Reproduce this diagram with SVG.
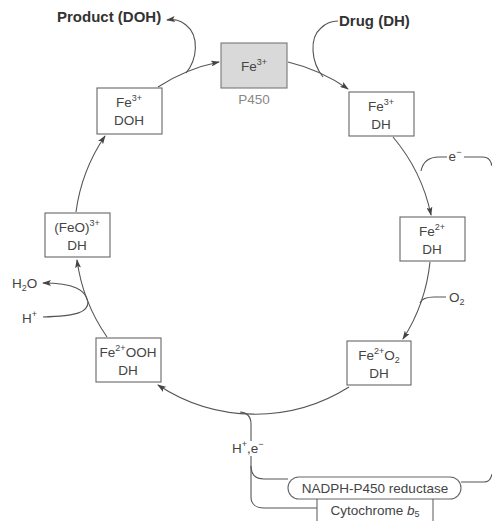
<svg xmlns="http://www.w3.org/2000/svg" width="492" height="521" viewBox="0 0 492 521">
<defs>
<marker id="ah" markerWidth="9" markerHeight="6" refX="8" refY="3" orient="auto" markerUnits="userSpaceOnUse">
<path d="M0,0 L9,3 L0,6 L2,3 Z" fill="#444"/>
</marker>
<style>
.box{fill:#fff;stroke:#666;stroke-width:1.1}
.p450{fill:#d9d9d9;stroke:#777;stroke-width:1.1}
.t{font-family:"Liberation Sans",Arial,sans-serif;font-size:13.5px;fill:#444;text-anchor:middle}
.tl{font-family:"Liberation Sans",Arial,sans-serif;font-size:13.5px;fill:#444}
.b{font-family:"Liberation Sans",Arial,sans-serif;font-size:15px;font-weight:bold;fill:#333}
.sup{font-size:9px}
.c{fill:none;stroke:#555;stroke-width:1.1}
.ca{fill:none;stroke:#555;stroke-width:1.1;marker-end:url(#ah)}
</style>
</defs>
<rect width="492" height="521" fill="#fff"/>

<g id="connectors">
<path class="ca" d="M158,87 A176,176 0 0 1 219,62"/>
<path class="ca" d="M288,62 A176,176 0 0 1 348,89"/>
<path class="ca" d="M393,137 A176,176 0 0 1 431,215"/>
<path class="ca" d="M430,262 A176,176 0 0 1 403,339"/>
<path class="ca" d="M349,387 A176,176 0 0 1 158,385"/>
<path class="ca" d="M107,337 A176,176 0 0 1 77,260"/>
<path class="ca" d="M76,212 A176,176 0 0 1 105,136"/>
<path class="ca" d="M186,73 C197,60 200,36 186,25 C180,20 175,19 167,20"/>
<path class="c" d="M323,77 C311,62 309,38 321,28 C326,23 331,21 338,21"/>
<path class="c" d="M421,171 C423,161 429,157 439,157 L447,157"/>
<path class="c" d="M464,157 L483,157 C488,157 491,160 492,166"/>
<path class="c" d="M420,303 C422,298 427,297 434,297 L446,297"/>
<path class="ca" d="M88,302 C86,290 74,283 43,283"/>
<path class="c" d="M88,302 C88,312 78,316 43,317"/>
<path class="c" d="M240,412 C246,412 251,416 251,424 L251,441"/>
<path class="c" d="M251,456 L251,497 C251,504 256,508 264,508 L317,508"/>
<path class="c" d="M251,466 C251,474 255,479 264,479 L288,479"/>
<path class="c" d="M461,482 L484,482 C488,482 491,479 492,474"/>
</g>

<g id="p450">
<rect class="p450" x="221" y="43" width="66" height="45"/>
<text class="t" x="254" y="71">Fe<tspan class="sup" dy="-6">3+</tspan></text>
<text class="t" x="254" y="104" style="fill:#888">P450</text>
</g>

<g id="fe3-dh">
<rect class="box" x="349" y="92" width="65" height="44"/>
<text class="t" x="381" y="111">Fe<tspan class="sup" dy="-6">3+</tspan></text>
<text class="t" x="381" y="129">DH</text>
</g>

<g id="fe2-dh">
<rect class="box" x="400" y="217" width="65" height="44"/>
<text class="t" x="432" y="236">Fe<tspan class="sup" dy="-6">2+</tspan></text>
<text class="t" x="432" y="254">DH</text>
</g>

<g id="fe2o2-dh">
<rect class="box" x="347" y="341" width="64" height="44"/>
<text class="t" x="379" y="360">Fe<tspan class="sup" dy="-6">2+</tspan><tspan dy="6">O</tspan><tspan class="sup" dy="3">2</tspan></text>
<text class="t" x="379" y="378">DH</text>
</g>

<g id="fe2ooh-dh">
<rect class="box" x="96" y="338" width="65" height="44"/>
<text class="t" x="128" y="357">Fe<tspan class="sup" dy="-6">2+</tspan><tspan dy="6">OOH</tspan></text>
<text class="t" x="128" y="375">DH</text>
</g>

<g id="feo-dh">
<rect class="box" x="45" y="213" width="65" height="44"/>
<text class="t" x="77" y="232">(FeO)<tspan class="sup" dy="-6">3+</tspan></text>
<text class="t" x="77" y="250">DH</text>
</g>

<g id="fe3-doh">
<rect class="box" x="97" y="88" width="65" height="46"/>
<text class="t" x="129" y="107">Fe<tspan class="sup" dy="-6">3+</tspan></text>
<text class="t" x="129" y="125">DOH</text>
</g>

<g id="product">
<text class="b" x="57" y="22">Product (DOH)</text>
</g>

<g id="drug">
<text class="b" x="339" y="26">Drug (DH)</text>
</g>

<g id="labels">
<text class="t" x="455" y="161">e<tspan class="sup" dy="-6">−</tspan></text>
<text class="tl" x="449" y="302">O<tspan class="sup" dy="3">2</tspan></text>
<text class="tl" x="12" y="288">H<tspan class="sup" dy="3">2</tspan><tspan dy="-3">O</tspan></text>
<text class="tl" x="22" y="323">H<tspan class="sup" dy="-6">+</tspan></text>
<text class="tl" x="232" y="453">H<tspan class="sup" dy="-6">+</tspan><tspan dy="6">,e</tspan><tspan class="sup" dy="-6">−</tspan></text>
</g>

<g id="cytochrome-b5">
<rect class="box" x="317" y="498" width="116" height="40"/>
<text class="t" x="375" y="515">Cytochrome <tspan font-style="italic">b</tspan><tspan class="sup" dy="2">5</tspan></text>
</g>

<g id="nadph-reductase">
<rect class="box" x="288" y="477" width="173" height="22" rx="11" ry="11"/>
<text class="t" x="375" y="493">NADPH-P450 reductase</text>
</g>
</svg>
